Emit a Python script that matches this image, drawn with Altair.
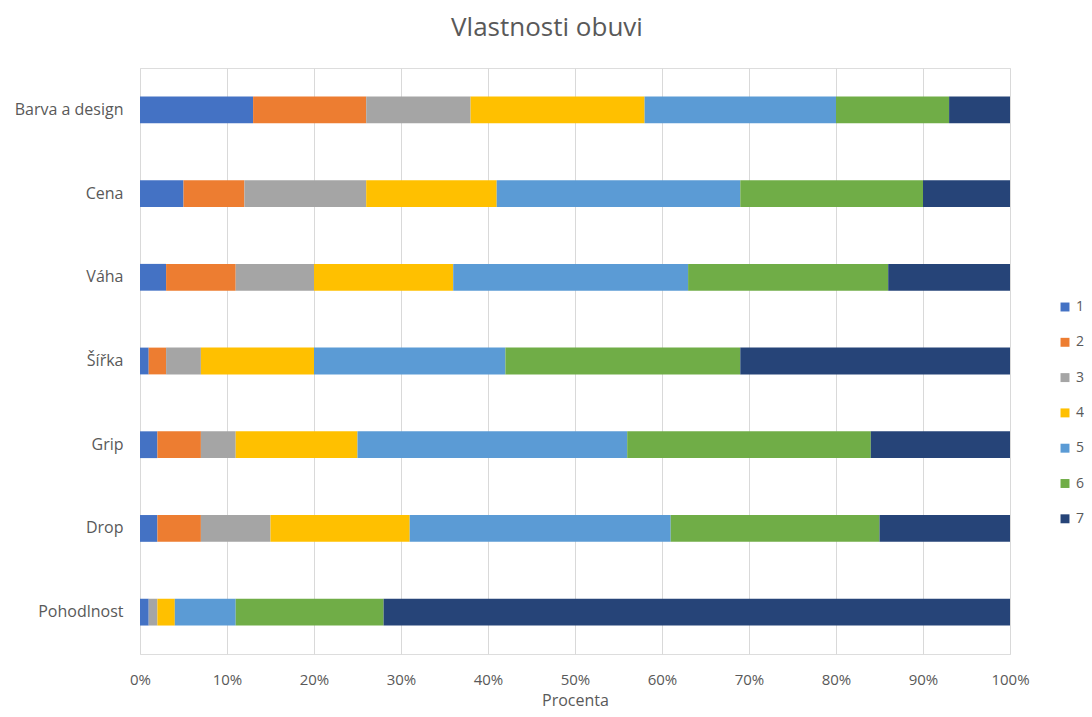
import altair as alt
import pandas as pd

categories = ["Barva a design", "Cena", "Váha", "Šířka", "Grip", "Drop", "Pohodlnost"]
series_names = ["1", "2", "3", "4", "5", "6", "7"]
s1 = [13, 5, 3, 1, 2, 2, 1]
s2 = [13, 7, 8, 2, 5, 5, 0]
s3 = [12, 14, 9, 4, 4, 8, 1]
s4 = [20, 15, 16, 13, 14, 16, 2]
s5 = [22, 28, 27, 22, 31, 30, 7]
s6 = [13, 21, 23, 27, 28, 24, 17]
s7 = [7, 10, 14, 31, 16, 15, 72]
tick_values = [0, 0.1, 0.2, 0.3, 0.4, 0.5, 0.6, 0.7, 0.8, 0.9, 1.0]
colors = ["#4472C4", "#ED7D31", "#A5A5A5", "#FFC000", "#5B9BD5", "#70AD47", "#264478"]

rows = []
for name, vals in zip(series_names, [s1, s2, s3, s4, s5, s6, s7]):
    for cat, v in zip(categories, vals):
        rows.append({"Vlastnost": cat, "Hodnocení": name, "order": int(name), "value": v})
df = pd.DataFrame(rows)

FONT = "Open Sans"
GREY = "#595959"

chart = alt.Chart(df).mark_bar().encode(
    y=alt.Y("Vlastnost:N", sort=categories,
            scale=alt.Scale(paddingInner=0.68, paddingOuter=0.34),
            axis=alt.Axis(title=None, ticks=False, domain=False, labelPadding=17,
                          labelFontSize=16, labelColor=GREY, labelFont=FONT, grid=False)),
    x=alt.X("value:Q", stack="normalize",
            scale=alt.Scale(domain=[0, 1], nice=False),
            axis=alt.Axis(title="Procenta", format=".0%", values=tick_values, labelOverlap=False,
                          ticks=False, domain=False, grid=True, gridColor="#D9D9D9",
                          labelPadding=18, labelFontSize=15, labelColor=GREY, labelFont=FONT,
                          labelFlush=False,
                          titleFontSize=16, titleColor=GREY, titleFont=FONT, titleFontWeight="normal",
                          titlePadding=5)),
    color=alt.Color("Hodnocení:N", sort=series_names,
                    scale=alt.Scale(domain=series_names, range=colors),
                    legend=alt.Legend(title=None, orient="none", legendX=918, legendY=232,
                                      symbolType="square", symbolSize=80, symbolStrokeWidth=0,
                                      labelFontSize=14, labelColor=GREY, labelFont=FONT,
                                      rowPadding=21.3, labelOffset=4)),
    order=alt.Order("order:Q", sort="ascending"),
).properties(
    width=870,
    height=586,
    title=alt.TitleParams("Vlastnosti obuvi", fontSize=26, font=FONT, color=GREY,
                          fontWeight="normal", anchor="middle", dx=-28, offset=27),
    autosize=alt.AutoSizeParams(type="none"),
    padding={"left": 132, "top": 60, "right": 74, "bottom": 55},
).configure_view(stroke=None).configure(background="white")

chart.save("out.html", embed_options={"renderer": "svg", "actions": False})
